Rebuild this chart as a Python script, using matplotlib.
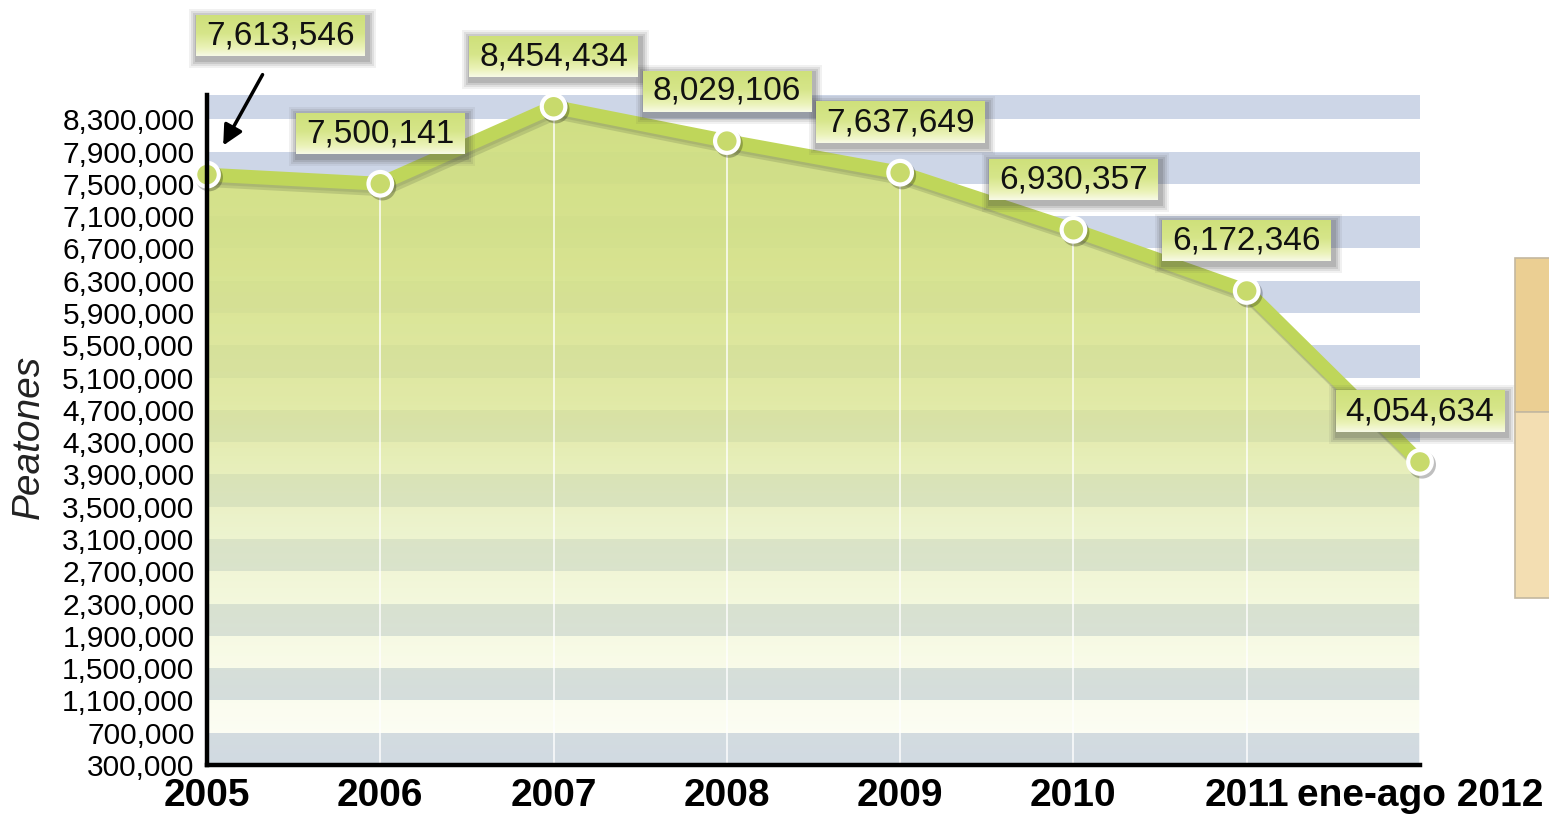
import numpy as np
import matplotlib.pyplot as plt
import matplotlib.patheffects as pe
from matplotlib.patches import Rectangle

plt.rcParams['font.family'] = ['Liberation Sans', 'DejaVu Sans']

# datos
anios = ['2005', '2006', '2007', '2008', '2009', '2010', '2011', 'ene-ago 2012']
peatones = [7613546, 7500141, 8454434, 8029106, 7637649, 6930357, 6172346, 4054634]
yticks = list(range(300000, 8300001, 400000))

x = np.arange(len(anios))
y = np.array(peatones)
ymin, ymax = 300000, 8600000

fig = plt.figure(figsize=(15.49, 8.18), dpi=100)
ax = fig.add_axes([207 / 1549, 1 - 765 / 818, (1420 - 207) / 1549, (765 - 95) / 818])
ax.set_xlim(0, len(x) - 1)
ax.set_ylim(ymin, ymax)

# bandas horizontales
for i, b in enumerate(range(ymin, ymax + 400000, 400000)):
    ax.axhspan(b, b + 400000, color='#cdd6e7' if i % 2 == 0 else 'white', lw=0, zorder=0)

# relleno degradado bajo la curva
fill = ax.fill_between(x, y, ymin, color='none', lw=0, zorder=1)
f = np.linspace(0, 1, 400)
alpha = np.interp(f, [0, 0.1, 0.34, 0.52, 0.75, 1], [0.12, 0.25, 0.62, 0.8, 0.95, 0.97])
r = np.interp(f, [0, 0.34, 0.52, 1], [0.95, 0.89, 0.86, 0.81])
g = np.interp(f, [0, 0.34, 0.52, 1], [0.97, 0.93, 0.90, 0.87])
bl = np.interp(f, [0, 0.34, 0.52, 1], [0.75, 0.70, 0.58, 0.50])
grad = np.stack([r, g, bl, alpha], axis=1)[:, None, :]
im = ax.imshow(grad, extent=(0, len(x) - 1, ymin, ymax), origin='lower', aspect='auto',
               interpolation='bilinear', zorder=1.5)
im.set_clip_path(fill.get_paths()[0], ax.transData)

# lineas verticales blancas
ax.vlines(x, ymin, y, color='white', lw=1.3, alpha=0.8, zorder=2)

# linea principal
ax.plot(x, y, color='#bfd65a', lw=10, solid_capstyle='round', solid_joinstyle='round', zorder=4,
        clip_on=False,
        path_effects=[pe.SimpleLineShadow(offset=(2, -4), shadow_color='#556040', alpha=0.2),
                      pe.SimpleLineShadow(offset=(1, -2), shadow_color='#556040', alpha=0.15),
                      pe.Normal()])
ax.plot(x, y, 'o', ms=17, mfc='#c8da6c', mec='white', mew=3, zorder=5, clip_on=False,
        path_effects=[pe.SimpleLineShadow(offset=(1.5, -2), shadow_color='black', alpha=0.25), pe.Normal()])

# etiquetas
etiquetas = []
for i in range(len(x)):
    off = (53, 100) if i == 0 else (0, 36)
    t = ax.annotate(f'{peatones[i]:,}', xy=(x[i], y[i]), xytext=off, textcoords='offset points',
                    ha='center', va='center', fontsize=24, color='#111111', zorder=7,
                    annotation_clip=False)
    etiquetas.append(t)

# flecha 2005
ax.annotate('', xy=(x[0], y[0]), xytext=(40, 72), textcoords='offset points',
            arrowprops=dict(arrowstyle='-|>', color='black', lw=2.5, mutation_scale=30,
                            shrinkA=0, shrinkB=24), zorder=7)

# ejes
ax.set_yticks(yticks)
ax.set_yticklabels([f'{v:,}' for v in yticks], fontsize=21.5)
ax.set_xticks(x)
ax.set_xticklabels(anios, fontsize=28, fontweight='bold')
ax.tick_params(length=0)
ax.tick_params(axis='y', pad=9)
ax.tick_params(axis='x', pad=9)
for s in ['top', 'right']:
    ax.spines[s].set_visible(False)
for s in ['left', 'bottom']:
    ax.spines[s].set_linewidth(3.2)
    ax.spines[s].set_zorder(8)
ax.set_ylabel('Peatones', fontsize=28, style='italic', color='#222222')
ax.yaxis.set_label_coords(-0.132, 0.49)

# cajas degradadas para las etiquetas
fig.canvas.draw()
rend = fig.canvas.get_renderer()
inv = ax.transData.inverted()
caja = np.linspace(0, 1, 100)
cr = np.interp(caja, [0, 0.2, 0.55, 1], [0.97, 0.92, 0.84, 0.81])
cg = np.interp(caja, [0, 0.2, 0.55, 1], [0.98, 0.95, 0.90, 0.88])
cb = np.interp(caja, [0, 0.2, 0.55, 1], [0.90, 0.72, 0.54, 0.48])
grad_caja = np.stack([cr, cg, cb], axis=1)[:, None, :]
for t in etiquetas:
    bb = t.get_window_extent(rend)
    x0, y0, x1, y1 = bb.x0 - 10, bb.y0 - 5, bb.x1 + 10, bb.y1 + 5
    for k, a in zip([9, 7, 5, 3], [0.07, 0.10, 0.13, 0.16]):
        (sx0, sy0), (sx1, sy1) = inv.transform([(x0 - k + 2, y0 - k - 3), (x1 + k + 2, y1 + k - 3)])
        ax.add_patch(Rectangle((sx0, sy0), sx1 - sx0, sy1 - sy0, fc='#444444', ec='none',
                               alpha=a, zorder=6, clip_on=False))
    (dx0, dy0), (dx1, dy1) = inv.transform([(x0, y0), (x1, y1)])
    ax.imshow(grad_caja, extent=(dx0, dx1, dy0, dy1), origin='lower', aspect='auto',
              interpolation='bilinear', zorder=6.5, clip_on=False)
ax.set_xlim(0, len(x) - 1)
ax.set_ylim(ymin, ymax)

# panel lateral recortado
fig.patches.append(Rectangle((1515 / 1549, 1 - 412 / 818), 0.05, 154 / 818, transform=fig.transFigure,
                             fc='#ebcf93', ec='#c4b89f', lw=1.2))
fig.patches.append(Rectangle((1515 / 1549, 1 - 598 / 818), 0.05, 186 / 818, transform=fig.transFigure,
                             fc='#f3deb2', ec='#c4b89f', lw=1.2))

fig.savefig('out.png', dpi=100)
